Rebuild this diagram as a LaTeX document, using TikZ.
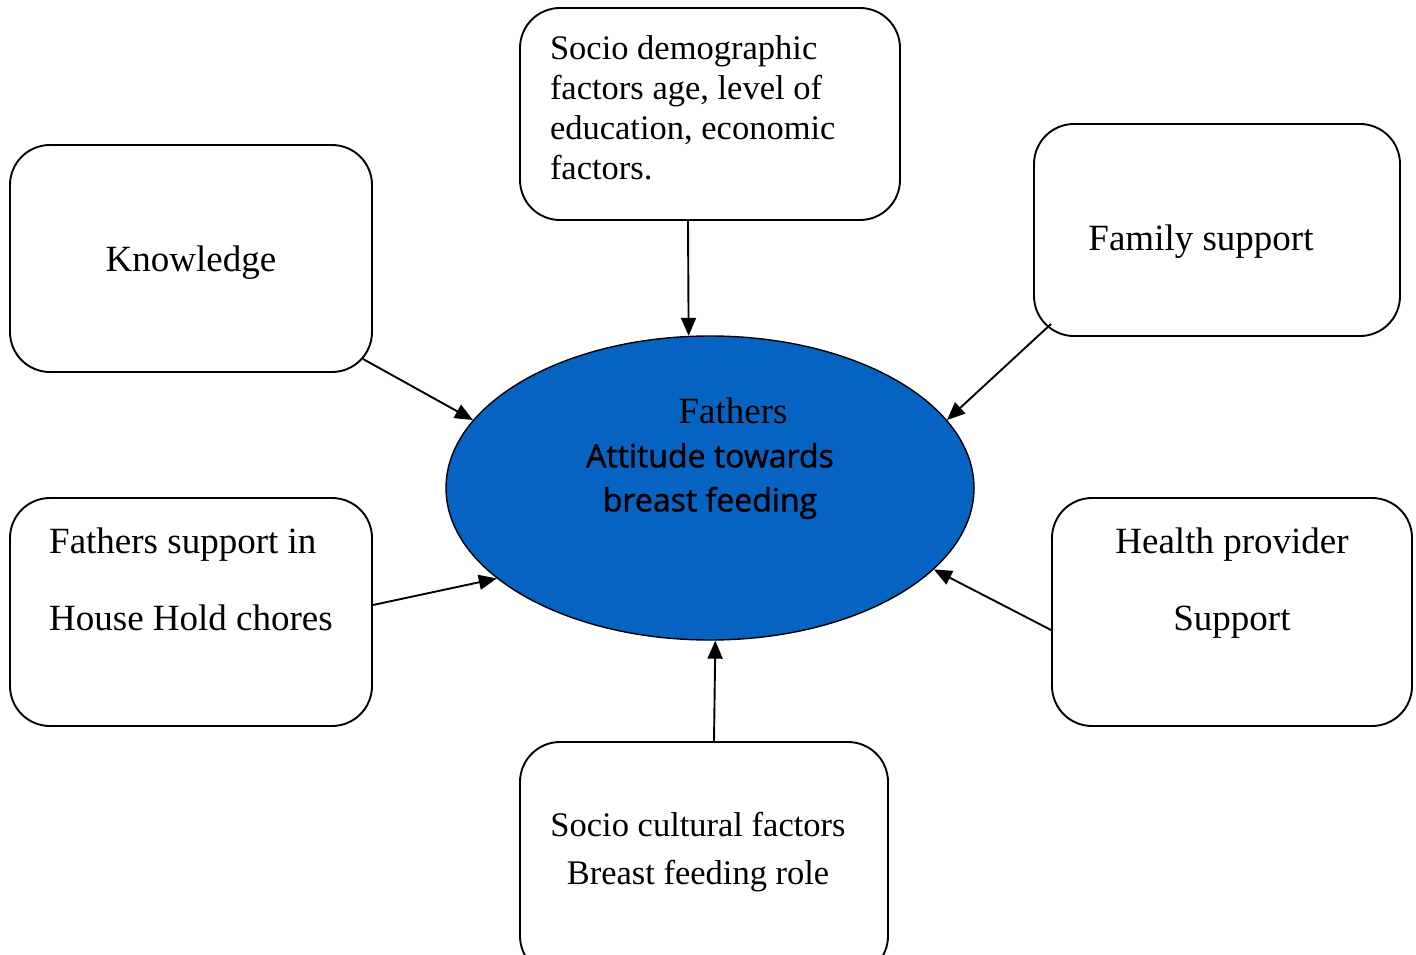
\documentclass[tikz,border=0pt]{standalone}
\usepackage{fontspec}
\setmainfont{Liberation Serif}
\newfontfamily\handfont[FakeBold=1.5]{Open Sans}
\usetikzlibrary{arrows.meta, shapes, positioning}
\definecolor{ovalblue}{RGB}{6,99,193}

\begin{document}
\begin{tikzpicture}[x=1pt,y=-1pt,line width=1.9pt,>={Triangle[length=18pt,width=15pt]},
	factor box/.style={draw, rounded corners=40pt, inner sep=0pt, font=\fontsize{37}{40}\selectfont},
	centre oval/.style={ellipse, draw, line width=1.4pt, fill=ovalblue, inner sep=0pt, minimum width=528pt, minimum height=304pt, align=center}]
	\useasboundingbox (0,0) rectangle (1416,955);
	
	% Cajas de factores
	\node[factor box, minimum width=362pt, minimum height=227pt] (know) at (191,258.5) {\rule{0pt}{33pt}Knowledge};
	\node[factor box, minimum width=380pt, minimum height=212pt, text width=320pt, inner xsep=30pt, align=flush left, font=\fontsize{34.5}{40}\selectfont] (demo) at (710,114) {Socio demographic\\factors age, level of\\education, economic\\factors.\rule[-12pt]{0pt}{0pt}};
	\node[factor box, minimum width=366pt, minimum height=212pt] (fam) at (1217,230) {\rule{0pt}{48pt}Family support\hspace*{32pt}};
	\node[factor box, minimum width=362pt, minimum height=228pt, align=left, font=\fontsize{37}{77}\selectfont] (chores) at (191,612) {Fathers support in\\House Hold chores\rule[-66pt]{0pt}{0pt}};
	\node[factor box, minimum width=360pt, minimum height=228pt, align=center, font=\fontsize{37}{77}\selectfont] (health) at (1232,612) {Health provider\\Support\rule[-66pt]{0pt}{0pt}};
	\node[factor box, minimum width=368pt, minimum height=234pt, align=center, font=\fontsize{34.5}{48}\selectfont] (cult) at (704,859) {Socio cultural factors\hspace*{12pt}\\Breast feeding role\hspace*{12pt}\rule[-22pt]{0pt}{0pt}};
	
	% Nodo central
	\node[centre oval, font=\fontsize{37}{44}\selectfont] (att) at (710,488) {\hspace*{46pt}Fathers\\{\handfont\fontsize{32}{44}\selectfont Attitude towards}\\{\handfont\fontsize{32}{44}\selectfont breast feeding}\rule[-67pt]{0pt}{0pt}};
	
	% Flechas hacia la actitud
	\draw[->] ([shift={(-10pt,14pt)}]know.south east) -- (att.164.6);
	\draw[->] ([shift={(-22pt,0pt)}]demo.south) -- (att.98.2);
	\draw[->] ([shift={(18pt,13pt)}]fam.south west) -- (att.16.5);
	\draw[->] ([shift={(0pt,7pt)}]chores.east) -- (att.203.7);
	\draw[->] ([shift={(0pt,-18pt)}]health.west) -- (att.340.7);
	\draw[->] ([shift={(10pt,0pt)}]cult.north) -- (att.272);
\end{tikzpicture}
\end{document}
